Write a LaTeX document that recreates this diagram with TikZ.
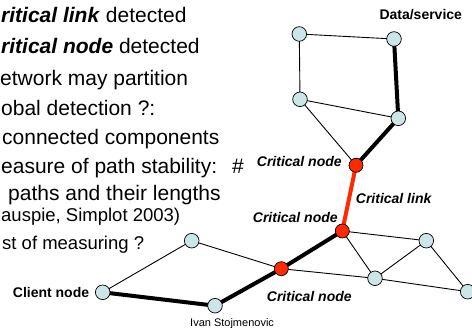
\documentclass[tikz,border=0pt]{standalone}
\usepackage{fontspec}
\setmainfont{Liberation Sans}
\usetikzlibrary{backgrounds}
\definecolor{nodeblue}{RGB}{204,230,232}
\definecolor{critred}{RGB}{255,42,0}
\begin{document}
\begin{tikzpicture}[x=1pt,y=-1pt,
  txt/.style={anchor=base west,inner sep=0pt,font=\fontsize{21pt}{25pt}\selectfont},
  txts/.style={anchor=base west,inner sep=0pt,font=\fontsize{18.5pt}{22pt}\selectfont},
  lbl/.style={anchor=west,inner sep=0pt,font=\fontsize{14pt}{16pt}\selectfont\bfseries\itshape},
  blbl/.style={anchor=west,inner sep=0pt,font=\fontsize{14pt}{16pt}\selectfont\bfseries},
  netnode/.style={circle,draw=black,line width=0.7pt,fill=nodeblue,minimum size=14.6pt,inner sep=0pt},
  critnode/.style={circle,draw=black,line width=0.7pt,fill=critred,minimum size=14pt,inner sep=0pt},
  thinlink/.style={line width=0.9pt},
  thicklink/.style={line width=4pt},
  redlink/.style={line width=4pt,draw=critred}]
\useasboundingbox (0,0) rectangle (472,328);
% nodes
\node[netnode] (A) at (299.3,34) {};
\node[netnode] (B) at (394,39) {};
\node[netnode] (C) at (300,99.3) {};
\node[netnode] (D) at (398.3,118.3) {};
\node[critnode] (CT) at (356,165.3) {};
\node[critnode] (CM) at (342.3,231) {};
\node[critnode] (CB) at (281.3,268.7) {};
\node[netnode] (LM) at (375,278.3) {};
\node[netnode] (UR) at (426.3,240.7) {};
\node[netnode] (RE) at (467.7,291.7) {};
\node[netnode] (BN) at (215,305.7) {};
\node[netnode] (CL) at (102.7,292.3) {};
\node[netnode] (LN) at (191.7,240.7) {};
% edges
\begin{scope}[on background layer]
\draw[thinlink] (A.center) -- (B.center);
\draw[thinlink] (A.center) -- (C.center);
\draw[thinlink] (C.center) -- (D.center);
\draw[thinlink] (C.center) -- (CT.center);
\draw[thinlink] (CM.center) -- (UR.center);
\draw[thinlink] (CM.center) -- (LM.center);
\draw[thinlink] (LM.center) -- (UR.center);
\draw[thinlink] (UR.center) -- (RE.center);
\draw[thinlink] (CB.center) -- (LM.center);
\draw[thinlink] (LM.center) -- (RE.center);
\draw[thinlink] (CL.center) -- (LN.center);
\draw[thinlink] (LN.center) -- (CB.center);
\draw[thicklink] (B.center) -- (D.center);
\draw[thicklink] (D.center) -- (CT.center);
\draw[redlink] (CT.center) -- (CM.center);
\draw[thicklink] (CM.center) -- (CB.center);
\draw[thicklink] (CB.center) -- (BN.center);
\draw[thicklink] (BN.center) -- (CL.center);
\end{scope}
% labels
\node[blbl] (ds) at (379.3,15) {Data/service};
\node[blbl] (cn) at (12.7,292.3) {Client node};
\node[lbl] (l1) at (256.7,161.7) {Critical node};
\node[lbl] (l2) at (252.7,217.3) {Critical node};
\node[lbl] (l3) at (266.7,296.7) {Critical node};
\node[lbl] (l4) at (355.7,198.3) {Critical link};
\node[anchor=west,inner sep=0pt,font=\fontsize{11pt}{13pt}\selectfont] (au) at (190,323.3) {Ivan Stojmenovic};
% left text
\node[txt] (t1) at (1,22.5) {\textbf{\textit{ritical link}} detected};
\node[txt] (t2) at (1,54) {\textbf{\textit{ritical node}} detected};
\node[txt] (t3) at (0,86) {etwork may partition};
\node[txt] (t4) at (1,116) {obal detection ?:};
\node[txt] (t5) at (2,145) {connected components};
\node[txt] (t6) at (1,174) {easure of path stability:\hspace{15pt}\#};
\node[txt] (t7) at (8,201) {paths and their lengths};
\node[txts] (t8) at (1,221.5) {auspie, Simplot 2003)};
\node[txts] (t9) at (2,250) {st of measuring ?};
\end{tikzpicture}
\end{document}
